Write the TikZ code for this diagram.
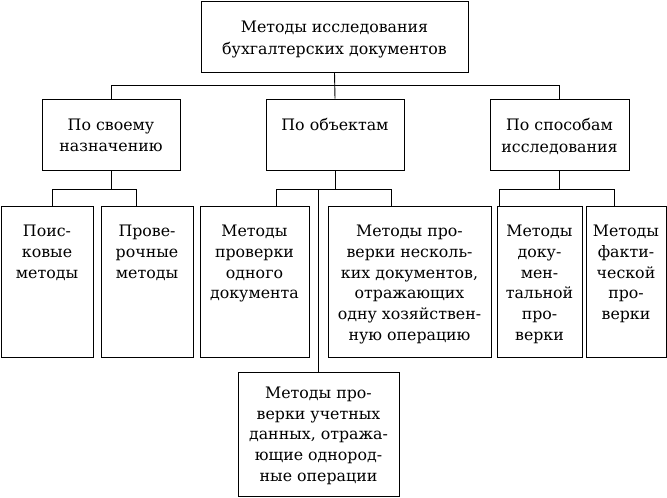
\documentclass[tikz,border=0pt]{standalone}
\usepackage{fontspec}
\setmainfont{DejaVu Serif}
\begin{document}
\begin{tikzpicture}[x=1pt,y=-1pt,line width=0.9pt,
  lbl/.style={anchor=north,align=center,inner sep=0pt},
  conn/.style={line width=0.9pt}]
\useasboundingbox (0,0) rectangle (667,498);
% #1 name, #2-#5 corners, #6 top offset, #7 line skip, #8 text
\newcommand\mybox[8]{%
  \node[draw,rectangle,inner sep=0pt,minimum width={#4-#2},minimum height={#5-#3}] (#1) at ({(#2+#4)/2},{(#3+#5)/2}) {};
  \node[lbl,font=\fontsize{15.8}{#7}\selectfont] (#1t) at ([yshift=-#6pt]#1.north) {#8};}
\mybox{top}{201}{1}{468}{72}{19.5}{22.5}{Методы исследования\\бухгалтерских документов}
\mybox{L}{42}{99}{180}{170}{19.5}{21.7}{По своему\\назначению}
\mybox{M}{266}{99}{404}{170}{19.5}{21.7}{По объектам}
\mybox{R}{490}{99}{629}{170}{19.5}{21.7}{По способам\\исследования}
\mybox{bA}{1}{206}{93}{357}{19}{20.8}{Поис-\\ковые\\методы}
\mybox{bB}{101}{206}{193}{357}{19}{20.8}{Прове-\\рочные\\методы}
\mybox{bC}{200}{206}{309}{357}{19}{20.8}{Методы\\проверки\\одного\\документа}
\mybox{bD}{328}{206}{491}{357}{19}{20.8}{Методы про-\\верки несколь-\\ких документов,\\отражающих\\одну хозяйствен-\\ную операцию}
\mybox{bE}{497}{206}{582}{357}{19}{20.8}{Методы\\доку-\\мен-\\тальной\\про-\\верки}
\mybox{bF}{586}{206}{666}{357}{19}{20.8}{Методы\\факти-\\ческой\\про-\\верки}
\mybox{bG}{238}{372}{399}{496.5}{15}{20.7}{Методы про-\\верки учетных\\данных, отража-\\ющие однород-\\ные операции}
\draw[conn] (top.south) -- (M.north);
\draw[conn] (L.north) -- (L.north |- 0,85) -- (R.north |- 0,85) -- (R.north);
\draw[conn] (L.south) -- (L.south |- 0,189);
\draw[conn] (bA.north -| 52,0) -- (52,189) -- (136,189) -- (bB.north -| 136,0);
\draw[conn] (M.south) -- (M.south |- 0,189);
\draw[conn] (bC.north -| 276,0) -- (276,189) -- (391,189) -- (bD.north -| 391,0);
\draw[conn] (318,189) -- (bG.north -| 318,0);
\draw[conn] (R.south) -- (R.south |- 0,189);
\draw[conn] (bE.north -| 499,0) -- (499,189) -- (614,189) -- (bF.north -| 614,0);
\end{tikzpicture}
\end{document}
